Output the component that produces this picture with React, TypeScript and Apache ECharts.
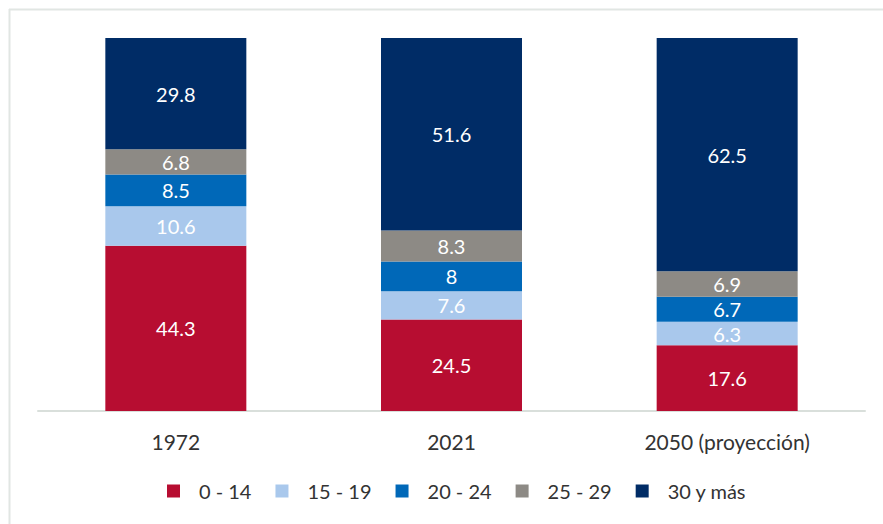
import React, { useEffect, useRef } from "react";
import * as echarts from "echarts";

const categories = ["1972", "2021", "2050 (proyección)"];
const seriesNames = ["0 - 14", "15 - 19", "20 - 24", "25 - 29", "30 y más"];
const v0_14 = [44.3, 24.5, 17.6];
const v15_19 = [10.6, 7.6, 6.3];
const v20_24 = [8.5, 8, 6.7];
const v25_29 = [6.8, 8.3, 6.9];
const v30 = [29.8, 51.6, 62.5];
const colors = ["#b70d31", "#a9c8ec", "#0068b8", "#8d8a85", "#002c66"];

export default function App() {
  const ref = useRef<HTMLDivElement>(null);
  useEffect(() => {
    if (!ref.current) return;
    const chart = echarts.init(ref.current, undefined, { renderer: "svg" });
    const data = [v0_14, v15_19, v20_24, v25_29, v30];
    const font = "Lato, 'Open Sans', sans-serif";
    chart.setOption({
      animation: false,
      backgroundColor: "#ffffff",
      grid: { left: 38, right: 18, top: 38, bottom: 113, containLabel: false },
      graphic: [
        {
          type: "line",
          shape: { x1: 9, y1: 9.5, x2: 883, y2: 9.5 },
          style: { stroke: "#e1e6e3", lineWidth: 2 },
          silent: true,
        },
        {
          type: "line",
          shape: { x1: 9.5, y1: 9, x2: 9.5, y2: 524 },
          style: { stroke: "#e1e6e3", lineWidth: 2 },
          silent: true,
        },
      ],
      xAxis: {
        type: "category",
        data: categories,
        axisLine: { lineStyle: { color: "#d9dfdb", width: 2 } },
        axisTick: { show: false },
        axisLabel: { color: "#333333", fontSize: 21, fontFamily: font, margin: 20 },
      },
      yAxis: {
        type: "value",
        min: 0,
        max: 100,
        show: false,
        splitLine: { show: false },
      },
      legend: {
        bottom: 18,
        left: 162,
        itemWidth: 13,
        itemHeight: 13,
        itemGap: 24,
        icon: "rect",
        textStyle: { color: "#333333", fontSize: 20, fontFamily: font, padding: [0, 0, 0, 14] },
        data: seriesNames,
      },
      series: seriesNames.map((name, i) => ({
        name,
        type: "bar",
        stack: "total",
        barWidth: 141,
        data: data[i],
        itemStyle: { color: colors[i] },
        label: {
          show: true,
          position: "inside",
          color: "#ffffff",
          fontSize: 20,
          fontFamily: font,
        },
      })),
    });
    return () => chart.dispose();
  }, []);
  return (
    <div
      ref={ref}
      style={{ position: "fixed", left: 0, top: 0, width: 883, height: 524 }}
    />
  );
}
